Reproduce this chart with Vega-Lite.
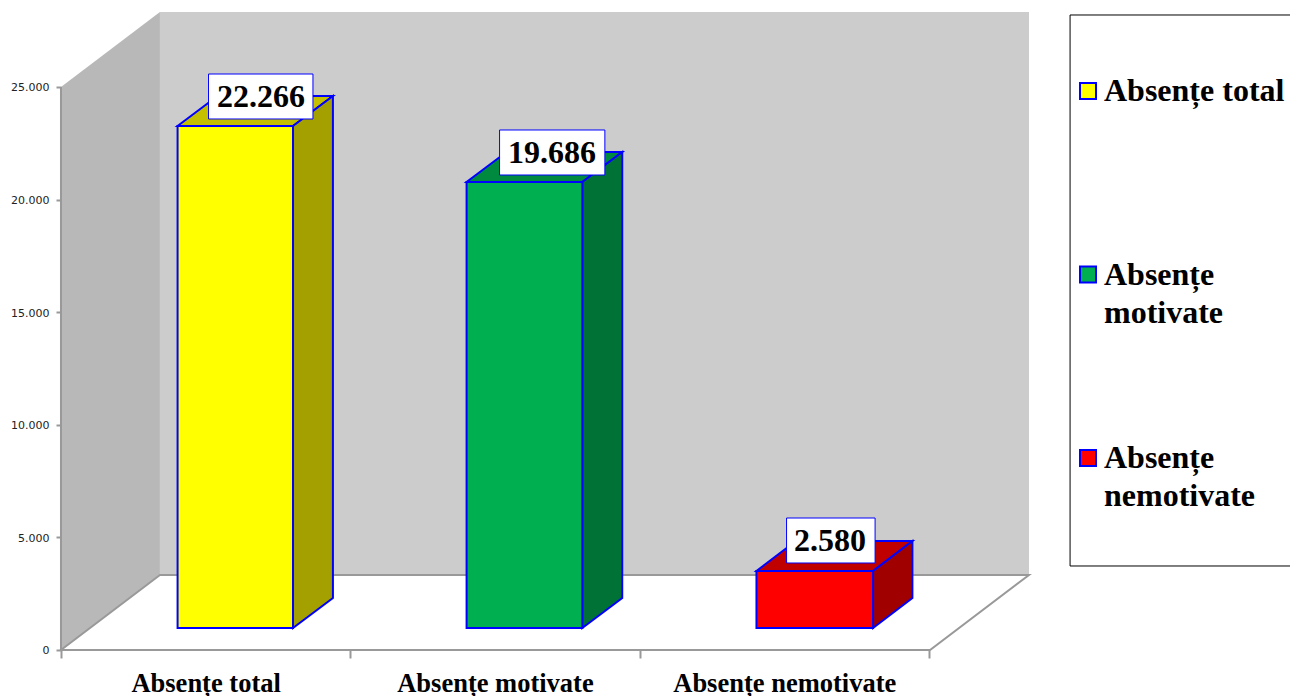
{
"$schema":"https://vega.github.io/schema/vega-lite/v6.json",
"width":1290,"height":696,"autosize":{"type":"none"},"padding":0,"background":"white",
"datasets":{
"back":[{"x":0.342,"x2":3.346,"y":3330,"y2":28330}],
"left":[{"x":0,"y":0,"y2":25000},{"x":0.342,"y":3330,"y2":28330}],
"floor":[{"y":0,"x":0,"x2":3.004},{"y":3330,"x":0.342,"x2":3.346}],
"axisline":[{"x":0,"y":0,"y2":25000}],
"side":[
{"series":"Absențe total","x":0.802,"y":977,"y2":23268},{"series":"Absențe total","x":0.94,"y":2309,"y2":24600},
{"series":"Absențe motivate","x":1.802,"y":977,"y2":20782},{"series":"Absențe motivate","x":1.94,"y":2309,"y2":22114},
{"series":"Absențe nemotivate","x":2.807,"y":977,"y2":3508},{"series":"Absențe nemotivate","x":2.943,"y":2309,"y2":4840}],
"top":[
{"series":"Absențe total","y":23268,"x":0.403,"x2":0.802},{"series":"Absențe total","y":24600,"x":0.541,"x2":0.94},
{"series":"Absențe motivate","y":20782,"x":1.402,"x2":1.802},{"series":"Absențe motivate","y":22114,"x":1.54,"x2":1.94},
{"series":"Absențe nemotivate","y":3508,"x":2.404,"x2":2.807},{"series":"Absențe nemotivate","y":4840,"x":2.54,"x2":2.943}],
"front":[
{"series":"Absențe total","x":0.403,"x2":0.802,"y":977,"y2":23268},
{"series":"Absențe motivate","x":1.402,"x2":1.802,"y":977,"y2":20782},
{"series":"Absențe nemotivate","x":2.404,"x2":2.807,"y":977,"y2":3508}],
"labels":[
{"value":22266,"label":"22.266","x":0.51,"x2":0.871,"xc":0.691,"y":23579,"y2":25577,"yc":24556},
{"value":19686,"label":"19.686","x":1.516,"x2":1.88,"xc":1.697,"y":21092,"y2":23091,"yc":22069},
{"value":2580,"label":"2.580","x":2.508,"x2":2.814,"xc":2.658,"y":3863,"y2":5861,"yc":4840}],
"legendbox":[{"x":3.488,"x2":4.3,"y":3730,"y2":28197}]
},
"data":{"name":"back"},
"encoding":{
"x":{"field":"x","type":"quantitative","scale":{"domain":[-0.2108,4.2482],"nice":false,"zero":false},"axis":null},
"y":{"field":"y","type":"quantitative","scale":{"domain":[-2043,28863],"nice":false,"zero":false},"axis":null}
},
"layer":[
{"data":{"name":"back"},"mark":{"type":"rect","fill":"#CCCCCC"},"encoding":{"x2":{"field":"x2"},"y2":{"field":"y2"}}},
{"data":{"name":"left"},"mark":{"type":"area","fill":"#B8B8B8"},"encoding":{"y2":{"field":"y2"}}},
{"data":{"name":"floor"},"mark":{"type":"area","orient":"horizontal","fill":"white","stroke":"#999999","strokeWidth":2},"encoding":{"x2":{"field":"x2"}}},
{"data":{"name":"axisline"},"mark":{"type":"rule","stroke":"#999999","strokeWidth":2},
"encoding":{
"x":{"field":"x","type":"quantitative","scale":{"domain":[-0.2108,4.2482],"nice":false,"zero":false},
"axis":{"orient":"bottom","offset":-46,"values":[0,1,2,3],"labels":false,"domain":false,"ticks":true,"tickColor":"#999999","tickWidth":2,"tickSize":8,"grid":false,"title":null}},
"y":{"field":"y","type":"quantitative","scale":{"domain":[-2043,28863],"nice":false,"zero":false},
"axis":{"orient":"left","offset":-61,"values":[0,5000,10000,15000,20000,25000],"domain":false,"ticks":true,"tickColor":"#999999","tickWidth":2,"tickSize":5,"grid":false,"title":null,"labelFont":"DejaVu Sans","labelFontSize":11,"labelColor":"#222222","labelPadding":7,"labelOffset":1,"labelExpr":"replace(format(datum.value,',d'),',','.')"}},
"y2":{"field":"y2"}}},
{"data":{"name":"top"},"mark":{"type":"area","orient":"horizontal","stroke":"#0000FF","strokeWidth":2},
"encoding":{"x2":{"field":"x2"},"color":{"field":"series","type":"nominal","legend":null,"scale":{"domain":["Absențe total","Absențe motivate","Absențe nemotivate"],"range":["#C4C000","#008A40","#C00000"]}}}},
{"data":{"name":"side"},"mark":{"type":"area","stroke":"#0000FF","strokeWidth":2},
"encoding":{"y2":{"field":"y2"},"color":{"field":"series","type":"nominal","legend":null,"scale":{"domain":["Absențe total","Absențe motivate","Absențe nemotivate"],"range":["#A3A000","#007236","#A00000"]}}}},
{"data":{"name":"legendbox"},"mark":{"type":"rect","fill":"white","stroke":"black","strokeWidth":1,"clip":true},"encoding":{"x2":{"field":"x2"},"y2":{"field":"y2"}}},
{"data":{"name":"front"},"mark":{"type":"rect","stroke":"#0000FF","strokeWidth":2},
"encoding":{"x2":{"field":"x2"},"y2":{"field":"y2"},
"color":{"field":"series","type":"nominal","scale":{"domain":["Absențe total","Absențe motivate","Absențe nemotivate"],"range":["#FFFF00","#00B050","#FF0000"]},
"legend":{"orient":"none","legendX":1072,"legendY":75,"title":null,"columns":1,"symbolType":"square","symbolSize":256,"symbolStrokeColor":"#0000FF","symbolStrokeWidth":2,"symbolOpacity":1,"labelFont":"Liberation Serif","labelFontWeight":"bold","labelFontSize":32,"labelColor":"black","labelLimit":400,"labelOffset":0,"rowPadding":113.5,"labelBaseline":"top","padding":0,
"labelExpr":"datum.label=='Absențe total' ? ['Absențe total',' '] : split(datum.label,' ')",
"encode":{"labels":{"update":{"lineHeight":{"value":38},"dy":{"value":-15}}}}}}}},
{"data":{"name":"labels"},"mark":{"type":"rect","fill":"white","stroke":"#0000FF","strokeWidth":1},"encoding":{"x2":{"field":"x2"},"y2":{"field":"y2"}}},
{"data":{"name":"labels"},"mark":{"type":"text","font":"Liberation Serif","fontWeight":"bold","fontSize":32,"color":"black","baseline":"middle","align":"center"},
"encoding":{"x":{"field":"xc","type":"quantitative"},"y":{"field":"yc","type":"quantitative"},"text":{"field":"label"}}},
{"data":{"values":[{"x":0.5,"y":0},{"x":1.5,"y":0},{"x":2.5,"y":0}]},"mark":{"type":"point","opacity":0},
"encoding":{"x":{"field":"x","type":"quantitative","scale":{"domain":[-0.2108,4.2482],"nice":false,"zero":false},
"axis":{"orient":"bottom","offset":-46,"values":[0.5,1.5,2.5],"domain":false,"ticks":false,"grid":false,"title":null,"labelFont":"Liberation Serif","labelFontWeight":"bold","labelFontSize":26.5,"labelColor":"black","labelPadding":20,"labelLimit":400,"labelOverlap":false,"labelExpr":"datum.value==0.5 ? 'Absențe total' : datum.value==1.5 ? 'Absențe motivate' : 'Absențe nemotivate'"}}}}
],
"resolve":{"scale":{"color":"independent"},"axis":{"x":"independent","y":"independent"}},
"config":{"view":{"stroke":null}}
}
